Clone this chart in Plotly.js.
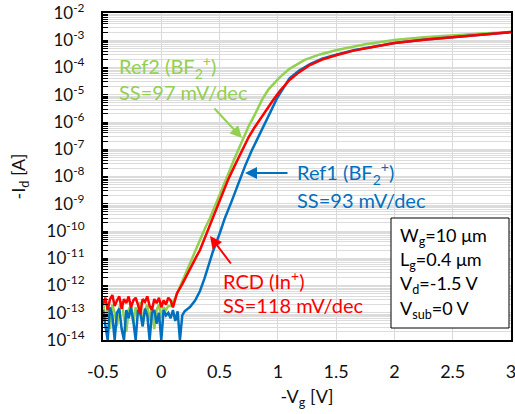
<!DOCTYPE html>
<html><head><meta charset="utf-8">
<script src="https://cdn.plot.ly/plotly-3.0.1.min.js"></script>
<style>html,body{margin:0;padding:0;background:#fff;}</style>
</head><body>
<div id="chart" style="width:515px;height:414px;"></div>
<script>
// Gate voltage in the noise floor region (-Vg, V)
const noiseV = [-0.50,-0.48,-0.46,-0.44,-0.42,-0.40,-0.38,-0.36,-0.34,-0.32,-0.30,-0.28,-0.26,-0.24,-0.22,-0.20,-0.18,-0.16,-0.14,-0.12,-0.10,-0.08,-0.06,-0.04,-0.02,0.00,0.02,0.04,0.06];
// log10(-Id) in the noise floor region
const redNoiseLog   = [-12.7,-12.45,-12.9,-12.5,-12.35,-12.75,-12.55,-12.4,-12.85,-12.5,-12.65,-12.4,-12.8,-12.55,-12.45,-12.7,-13.05,-12.5,-12.6,-12.4,-12.75,-12.9,-12.5,-12.65,-12.45,-12.8,-12.55,-12.7,-12.45];
const greenNoiseLog = [-12.6,-13.3,-12.8,-13.6,-12.7,-13.0,-13.5,-12.8,-12.6,-13.2,-13.7,-12.9,-12.7,-13.4,-12.8,-13.1,-12.6,-13.5,-12.9,-12.7,-13.3,-12.8,-13.6,-12.9,-12.7,-13.2,-12.8,-12.9,-12.75];
const blueNoiseLog  = [-12.9,-13.4,-14.0,-12.8,-13.1,-14.0,-13.0,-12.85,-13.6,-14.0,-12.9,-13.2,-12.8,-13.3,-14.0,-12.9,-13.0,-13.5,-12.85,-13.1,-14.0,-13.0,-12.9,-13.4,-13.0,-14.0,-12.9,-13.1,-13.0];

// Rising part of each curve
const redV   = [0.08,0.10,0.12,0.135,0.18,0.22,0.26,0.30,0.332,0.37,0.41,0.443,0.50,0.572,0.63,0.692,0.75,0.80,0.846,0.90,0.96,1.02,1.10,1.18,1.275,1.38,1.507,1.65,1.8,2.0,2.25,2.5,2.75,3.0];
const redLog = [-12.55,-12.8,-12.5,-12.28,-11.95,-11.6,-11.28,-10.95,-10.70,-10.3,-9.85,-9.49,-8.9,-8.13,-7.6,-7.03,-6.55,-6.2,-5.9,-5.55,-5.19,-4.85,-4.46,-4.18,-3.91,-3.71,-3.54,-3.38,-3.25,-3.10,-2.98,-2.88,-2.79,-2.70];

const greenV   = [0.08,0.12,0.16,0.20,0.25,0.29,0.332,0.375,0.418,0.47,0.52,0.57,0.62,0.658,0.70,0.75,0.80,0.864,0.92,0.97,1.018,1.1,1.23,1.36,1.507,1.75,2.0,2.25,2.5,2.75,3.0];
const greenLog = [-12.75,-12.45,-12.05,-11.65,-11.12,-10.70,-10.30,-9.90,-9.52,-9.0,-8.48,-7.95,-7.42,-7.03,-6.6,-6.15,-5.75,-5.19,-4.8,-4.55,-4.35,-4.05,-3.72,-3.52,-3.36,-3.15,-2.99,-2.89,-2.81,-2.75,-2.70];

const blueV   = [0.08,0.10,0.12,0.14,0.16,0.18,0.20,0.246,0.29,0.332,0.37,0.41,0.443,0.50,0.546,0.60,0.658,0.72,0.778,0.84,0.889,0.94,0.99,1.05,1.10,1.18,1.275,1.38,1.507,1.65,1.8,2.0,2.25,2.5,2.75,3.0];
const blueLog = [-13.2,-12.9,-13.3,-12.95,-14.0,-13.1,-12.95,-12.79,-12.55,-12.2,-11.75,-11.2,-10.75,-10.1,-9.52,-8.95,-8.3,-7.6,-7.03,-6.5,-6.05,-5.6,-5.15,-4.72,-4.40,-4.12,-3.88,-3.68,-3.52,-3.37,-3.25,-3.10,-2.98,-2.88,-2.79,-2.70];

// Y tick labels (decade exponents) and minor tick mantissas
const yTickExp = [-2,-3,-4,-5,-6,-7,-8,-9,-10,-11,-12,-13,-14];
const minorMantissa = [2,3,4,5,6,7,8,9];
// X axis range and tick labels
const xRange = [-0.5, 3.0];
const yRangeExp = [-14, -2];
const xTickVals = [-0.5,0,0.5,1,1.5,2,2.5,3];
const xTickText = ["-0.5","0","0.5","1","1.5","2","2.5","3"];

const GREEN = '#92d050', BLUE = '#0070c0', RED = '#ff0000';
const toI = a => a.map(v => Math.pow(10, v));

const FONT = 'Lato, "Open Sans", sans-serif';
const L = 103, R = 511, T = 13, B = 340;
const W = R - L, H = B - T;
const px = x => (x - L) / W;
const py = y => (B - y) / H;

// all y ticks: decades carry labels, minor ticks are blank
const yVals = [], yText = [];
yTickExp.forEach(e => {
  yVals.push(Math.pow(10, e));
  yText.push('10<sup>' + e + '</sup>\u00a0\u00a0\u00a0');
  if (e < -2) minorMantissa.forEach(m => { yVals.push(m * Math.pow(10, e)); yText.push(''); });
});

const mk = (v, lg, color, xa, ya) => ({
  x: noiseV.concat(v), y: toI(lg), type: 'scatter', mode: 'lines',
  xaxis: xa, yaxis: ya,
  line: {color: color, width: 2.5}, hoverinfo: 'skip', showlegend: false
});

const traces = [
  mk(greenV, greenNoiseLog.concat(greenLog), GREEN, 'x', 'y'),
  mk(blueV, blueNoiseLog.concat(blueLog), BLUE, 'x', 'y'),
  mk(redV, redNoiseLog.concat(redLog), RED, 'x2', 'y2')
];

const txt = (text, x, y, color) => ({
  text: text, xref: 'paper', yref: 'paper', x: px(x), y: py(y),
  xanchor: 'left', yanchor: 'middle', showarrow: false,
  font: {family: FONT, size: 20, color: color}
});
const arr = (tipX, tipY, tailX, tailY, color) => ({
  text: '', xref: 'paper', yref: 'paper', x: px(tipX), y: py(tipY),
  ax: tailX - tipX, ay: tailY - tipY, showarrow: true,
  arrowhead: 2, arrowsize: 1.2, arrowwidth: 2, arrowcolor: color
});
const boxTxt = (text, y) => ({
  text: text, xref: 'paper', yref: 'paper', x: px(398), y: py(y),
  xanchor: 'left', yanchor: 'middle', showarrow: false,
  font: {family: FONT, size: 18, color: '#000'}
});

const annotations = [
  txt('Ref2 (BF<sub>2</sub><sup>+</sup>)', 117, 67, GREEN),
  txt('SS=97 mV/dec', 117, 92, GREEN),
  arr(242, 138, 213, 107, GREEN),
  txt('Ref1 (BF<sub>2</sub><sup>+</sup>)', 295, 173, BLUE),
  txt('SS=93 mV/dec', 295, 200, BLUE),
  arr(245, 173, 289, 173, BLUE),
  txt('RCD (In<sup>+</sup>)', 221, 280, RED),
  txt('SS=118 mV/dec', 221, 305, RED),
  arr(210, 236, 232, 265, RED),
  boxTxt('W<sub>g</sub>=10 μm', 236),
  boxTxt('L<sub>g</sub>=0.4 μm', 260),
  boxTxt('V<sub>d</sub>=-1.5 V', 284),
  boxTxt('V<sub>sub</sub>=0 V', 309)
];

const layout = {
  width: 515, height: 414,
  margin: {l: L, r: 515 - R, t: T, b: 414 - B},
  paper_bgcolor: '#fff', plot_bgcolor: '#fff',
  font: {family: FONT, color: '#000'},
  xaxis: {
    range: xRange, tickvals: xTickVals, ticktext: xTickText,
    showgrid: true, gridcolor: '#d9d9d9', gridwidth: 1, zeroline: false,
    showline: true, linecolor: '#000', linewidth: 2,
    ticks: 'outside', ticklen: 14, tickcolor: 'rgba(0,0,0,0)',
    ticklabeloverflow: 'allow',
    tickfont: {family: FONT, size: 18, color: '#111'},
    title: {text: '-V<sub>g</sub> [V]', font: {family: FONT, size: 18, color: '#111'}, standoff: 10}
  },
  // top frame line
  xaxis2: {
    overlaying: 'x', side: 'top', anchor: 'y2', range: xRange,
    showgrid: false, zeroline: false, showticklabels: false, ticks: '',
    showline: true, linecolor: '#000', linewidth: 2
  },
  yaxis: {
    type: 'log', range: yRangeExp,
    tickvals: yVals, ticktext: yText,
    showgrid: true, gridcolor: '#dcdcdc', gridwidth: 1, zeroline: false,
    showline: true, linecolor: '#000', linewidth: 2,
    ticks: 'inside', ticklen: 5, tickwidth: 1, tickcolor: '#000',
    ticklabeloverflow: 'allow',
    tickfont: {family: FONT, size: 17, color: '#111'},
    title: {text: '-I<sub>d</sub> [A]', font: {family: FONT, size: 18, color: '#111'}, standoff: 16}
  },
  // right frame line
  yaxis2: {
    type: 'log', range: yRangeExp, overlaying: 'y', side: 'right', anchor: 'x2',
    showgrid: false, zeroline: false, showticklabels: false, ticks: '',
    showline: true, linecolor: '#000', linewidth: 2
  },
  shapes: [
    {type: 'rect', xref: 'paper', yref: 'paper',
     x0: px(391), x1: px(509), y0: py(328), y1: py(218),
     line: {color: '#000', width: 1}, fillcolor: '#fff', layer: 'above'}
  ],
  annotations: annotations
};

Plotly.newPlot('chart', traces, layout, {displayModeBar: false, staticPlot: true});
</script>
</body></html>
